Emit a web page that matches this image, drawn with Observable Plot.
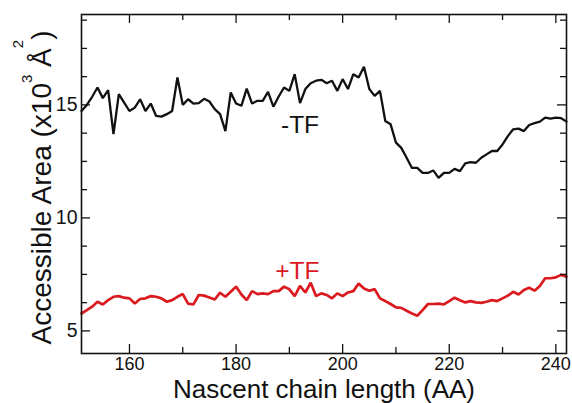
<!DOCTYPE html>
<html><head><meta charset="utf-8">
<script src="https://cdn.jsdelivr.net/npm/d3@7"></script>
<script src="https://cdn.jsdelivr.net/npm/@observablehq/plot@0.6"></script>
<style>
body{margin:0;background:#fff}
#chart svg{display:block}
</style></head><body><div id="chart"></div>
<script>
// Nascent chain length (AA)
const chainLength = [151,152,153,154,155,156,157,158,159,160,161,162,163,164,165,166,167,168,169,170,
171,172,173,174,175,176,177,178,179,180,181,182,183,184,185,186,187,188,189,190,
191,192,193,194,195,196,197,198,199,200,201,202,203,204,205,206,207,208,209,210,
211,212,213,214,215,216,217,218,219,220,221,222,223,224,225,226,227,228,229,230,
231,232,233,234,235,236,237,238,239,240,241,242];
// Accessible area (x10^3 Å^2), without trigger factor
const areaMinusTF = [14.73,15.00,15.36,15.77,15.30,15.65,13.71,15.48,15.10,14.73,14.88,15.25,14.73,15.06,14.51,14.48,14.59,14.73,16.21,15.00,
15.25,15.06,15.08,15.27,15.15,14.81,14.59,13.84,15.55,15.06,14.96,15.72,15.06,15.18,15.18,15.58,14.92,15.37,15.77,15.62,
16.36,15.08,15.70,15.96,16.07,16.11,15.96,16.07,15.62,16.14,15.70,16.36,16.21,16.69,15.70,15.40,15.62,14.29,14.14,13.33,
13.10,12.66,12.21,12.21,11.99,11.99,12.10,11.77,11.99,11.99,12.17,12.07,12.41,12.47,12.44,12.66,12.81,12.96,12.96,13.25,
13.62,13.92,13.95,13.84,14.11,14.19,14.26,14.44,14.39,14.44,14.41,14.26];
// Accessible area (x10^3 Å^2), with trigger factor
const areaPlusTF = [5.77,5.92,6.07,6.29,6.17,6.36,6.51,6.54,6.47,6.44,6.21,6.41,6.44,6.54,6.51,6.44,6.29,6.36,6.51,6.63,
6.21,6.17,6.59,6.56,6.48,6.39,6.69,6.51,6.73,6.96,6.61,6.36,6.76,6.63,6.66,6.63,6.76,6.76,6.96,6.84,
6.54,6.99,6.70,7.13,6.54,6.66,6.59,6.44,6.66,6.54,6.70,6.76,7.10,6.88,6.78,6.85,6.44,6.32,6.19,6.04,
6.02,5.89,5.77,5.67,5.92,6.19,6.19,6.21,6.17,6.32,6.47,6.36,6.26,6.32,6.26,6.24,6.29,6.36,6.32,6.44,
6.56,6.73,6.61,6.81,6.91,6.78,6.99,7.33,7.33,7.37,7.48,7.40];

const xMajorTicks = [160, 180, 200, 220, 240];
const xMinorTicks = [170, 190, 210, 230];
const yMajorTicks = [5, 10, 15];
const yMinorTicks = [6.25, 7.5, 8.75, 11.25, 12.5, 13.75, 16.25, 17.5, 18.75];

const seriesLabels = ["-TF", "+TF"];
const seriesLabelX = [192, 191.5];
const seriesLabelY = [13.76, 7.31];

const xTitle = "Nascent chain length (AA)";

// ---- build ----
const W = 572, H = 403;
const mL = 81, mR = 6, mT = 14, mB = 50;
const frameW = W - mL - mR, frameH = H - mT - mB;
const majorLen = 9, minorLen = 6;
const RED = "#db1a1f";

const minus = chainLength.map((x, i) => ({x, y: areaMinusTF[i]}));
const plus = chainLength.map((x, i) => ({x, y: areaPlusTF[i]}));
const labels = seriesLabels.map((t, i) => ({t, x: seriesLabelX[i], y: seriesLabelY[i], c: i === 0 ? "#111" : RED}));

const chart = Plot.plot({
  width: W, height: H,
  marginLeft: mL, marginRight: mR, marginTop: mT, marginBottom: mB,
  style: {fontFamily: "'Liberation Sans', Arial, Helvetica, sans-serif", color: "#111", background: "#fff"},
  x: {domain: [151, 242], label: null},
  y: {domain: [4, 19], label: null},
  marks: [
    Plot.line(minus, {x: "x", y: "y", stroke: "#111", strokeWidth: 2.3, strokeLinejoin: "miter"}),
    Plot.line(plus, {x: "x", y: "y", stroke: RED, strokeWidth: 2.7, strokeLinejoin: "miter"}),
    Plot.text(labels, {x: "x", y: "y", text: "t", fill: "c", fontSize: 24.5, lineAnchor: "bottom", textAnchor: "middle"}),
    // inward ticks on all four sides
    Plot.tickX(xMajorTicks, {x: d => d, insetTop: frameH - majorLen, stroke: "#111", strokeWidth: 1.3}),
    Plot.tickX(xMajorTicks, {x: d => d, insetBottom: frameH - majorLen, stroke: "#111", strokeWidth: 1.3}),
    Plot.tickX(xMinorTicks, {x: d => d, insetTop: frameH - minorLen, stroke: "#111", strokeWidth: 1.3}),
    Plot.tickX(xMinorTicks, {x: d => d, insetBottom: frameH - minorLen, stroke: "#111", strokeWidth: 1.3}),
    Plot.tickY(yMajorTicks, {y: d => d, insetRight: frameW - majorLen, stroke: "#111", strokeWidth: 1.3}),
    Plot.tickY(yMajorTicks, {y: d => d, insetLeft: frameW - majorLen, stroke: "#111", strokeWidth: 1.3}),
    Plot.tickY(yMinorTicks, {y: d => d, insetRight: frameW - minorLen, stroke: "#111", strokeWidth: 1.3}),
    Plot.tickY(yMinorTicks, {y: d => d, insetLeft: frameW - minorLen, stroke: "#111", strokeWidth: 1.3}),
    Plot.axisX(xMajorTicks, {tickSize: 0, tickPadding: 4, fontSize: 18, label: null}),
    Plot.axisY(yMajorTicks, {tickSize: 0, tickPadding: 4, fontSize: 19.5, label: null}),
    Plot.frame({stroke: "#111", strokeWidth: 1.6}),
    Plot.text([xTitle], {frameAnchor: "bottom", dy: 44.5, lineAnchor: "bottom", fontSize: 26, fill: "#111"})
  ]
});

// y-axis title with superscripts
const svg = d3.select(chart);
const yt = svg.append("text")
  .attr("transform", `translate(51,${(mT + H - mB) / 2 + 4}) rotate(-90)`)
  .attr("text-anchor", "middle")
  .attr("font-size", 28)
  .attr("fill", "#111");
yt.append("tspan").text("Accessible Area (x10");
yt.append("tspan").attr("font-size", 15).attr("dy", -19).text("3");
yt.append("tspan").attr("dy", 19).text(" Å");
yt.append("tspan").attr("font-size", 15).attr("dy", -28).text("2");
yt.append("tspan").attr("dy", 28).text(")");

document.getElementById("chart").appendChild(chart);
</script>
</body></html>
